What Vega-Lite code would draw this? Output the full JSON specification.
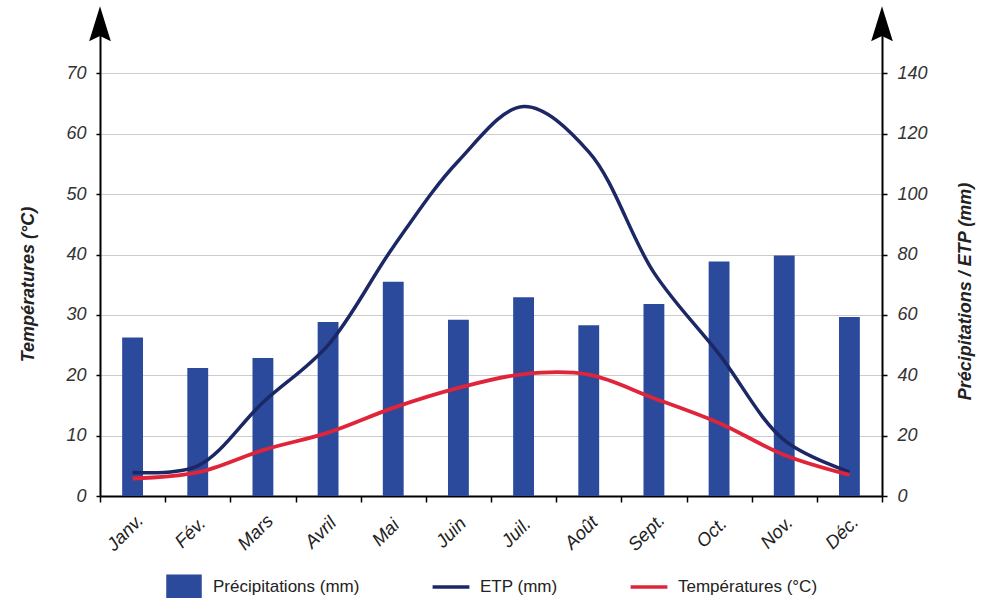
{
  "$schema": "https://vega.github.io/schema/vega-lite/v6.json",
  "width": 782,
  "height": 483,
  "autosize": {"type": "none"},
  "padding": {"left": 100, "top": 13, "right": 111, "bottom": 102},
  "background": "white",
  "config": {"view": {"stroke": null}, "font": "Liberation Sans"},
  "data": {
    "values": [
      {"mois": "Janv.", "precip": 52.5, "etp": 7.8, "temp": 2.9},
      {"mois": "Fév.", "precip": 42.4, "etp": 10, "temp": 3.9},
      {"mois": "Mars", "precip": 45.7, "etp": 31, "temp": 7.6},
      {"mois": "Avril", "precip": 57.6, "etp": 50, "temp": 10.5},
      {"mois": "Mai", "precip": 71, "etp": 82.5, "temp": 14.6},
      {"mois": "Juin", "precip": 58.4, "etp": 111, "temp": 17.9},
      {"mois": "Juil.", "precip": 65.8, "etp": 129, "temp": 20.2},
      {"mois": "Août", "precip": 56.6, "etp": 114, "temp": 20.1},
      {"mois": "Sept.", "precip": 63.6, "etp": 74, "temp": 16.2},
      {"mois": "Oct.", "precip": 77.7, "etp": 47, "temp": 12.1},
      {"mois": "Nov.", "precip": 79.7, "etp": 18.5, "temp": 6.8},
      {"mois": "Déc.", "precip": 59.3, "etp": 8, "temp": 3.5}
    ]
  },
  "layer": [
    {
      "mark": {"type": "bar", "width": {"band": 0.32}},
      "encoding": {
        "x": {
          "field": "mois", "type": "nominal", "sort": null,
          "scale": {"type": "band", "paddingInner": 0, "paddingOuter": 0},
          "axis": {
            "title": null, "tickBand": "extent", "labelAngle": -45,
            "labelAlign": "center", "labelBaseline": "middle", "labelOffset": -8,
            "labelPadding": 30, "labelFontSize": 18.5, "labelFontStyle": "italic",
            "labelColor": "#222222", "labelFont": "Liberation Sans",
            "tickSize": 6, "tickColor": "black", "tickWidth": 1.5,
            "domainColor": "black", "domainWidth": 2, "grid": false
          }
        },
        "y": {
          "field": "precip", "type": "quantitative",
          "scale": {"domain": [0, 160], "nice": false},
          "axis": {
            "orient": "right", "values": [0, 20, 40, 60, 80, 100, 120, 140],
            "title": "Précipitations / ETP (mm)", "titleFontSize": 18,
            "titleFontWeight": "bold", "titleFontStyle": "italic", "titleColor": "#222222",
            "titleAngle": 270, "titleX": 83, "titleY": 278, "titleAlign": "center",
            "titleBaseline": "middle", "titleFont": "Liberation Sans",
            "grid": false, "labelFontSize": 18, "labelFontStyle": "italic",
            "labelColor": "#333333", "labelPadding": 10, "labelFont": "Liberation Sans",
            "tickSize": 5, "tickColor": "black", "tickWidth": 1.5,
            "domainColor": "black", "domainWidth": 2
          }
        },
        "color": {
          "datum": "Précipitations (mm)", "type": "nominal",
          "scale": {
            "domain": ["Précipitations (mm)", "ETP (mm)", "Températures (°C)"],
            "range": ["#2B4A9B", "#1C2765", "#E0243A"]
          },
          "legend": {
            "orient": "none", "legendX": 66, "legendY": 556, "direction": "horizontal",
            "columns": 3, "title": null, "labelFontSize": 17, "labelColor": "#222222",
            "labelFont": "Liberation Sans", "labelOffset": 11, "columnPadding": 65,
            "gridAlign": "each", "symbolSize": 1024, "padding": 0, "labelLimit": 0,
            "encode": {
              "symbols": {
                "update": {
                  "shape": {"signal": "datum.value === 'Précipitations (mm)' ? 'M-1,-0.68H1V0.68H-1Z' : 'M-1.15,-0.68M-1.15,0H1.15M1.15,0.68'"},
                  "fill": {"signal": "datum.value === 'Précipitations (mm)' ? '#2B4A9B' : 'transparent'"},
                  "stroke": {"signal": "datum.value === 'Précipitations (mm)' ? 'transparent' : (datum.value === 'ETP (mm)' ? '#1C2765' : '#E0243A')"},
                  "strokeWidth": {"value": 3.5},
                  "opacity": {"value": 1}
                }
              }
            }
          }
        }
      }
    },
    {
      "mark": {"type": "line", "interpolate": "catmull-rom", "strokeWidth": 3.5},
      "encoding": {
        "x": {"field": "mois", "type": "nominal", "sort": null, "scale": {"type": "point", "padding": 0.5}, "axis": null},
        "y": {"field": "etp", "type": "quantitative", "scale": {"domain": [0, 160], "nice": false}, "axis": null},
        "color": {"datum": "ETP (mm)", "type": "nominal"}
      }
    },
    {
      "mark": {"type": "line", "interpolate": "catmull-rom", "strokeWidth": 3.8},
      "encoding": {
        "x": {"field": "mois", "type": "nominal", "sort": null, "scale": {"type": "point", "padding": 0.5}, "axis": null},
        "y": {
          "field": "temp", "type": "quantitative",
          "scale": {"domain": [0, 80], "nice": false},
          "axis": {
            "orient": "left", "values": [0, 10, 20, 30, 40, 50, 60, 70],
            "title": "Températures (°C)", "titleFontSize": 18,
            "titleFontWeight": "bold", "titleFontStyle": "italic", "titleColor": "#222222",
            "titleAngle": 270, "titleX": -72, "titleY": 271, "titleAlign": "center",
            "titleBaseline": "middle", "titleFont": "Liberation Sans",
            "grid": true, "gridColor": "#cccccc", "gridWidth": 1,
            "labelFontSize": 18, "labelFontStyle": "italic", "labelColor": "#333333",
            "labelPadding": 10, "labelFont": "Liberation Sans",
            "tickSize": 4, "tickColor": "black", "tickWidth": 1.5,
            "domainColor": "black", "domainWidth": 2
          }
        },
        "color": {"datum": "Températures (°C)", "type": "nominal"}
      }
    },
    {
      "data": {"values": [{"axe": "Températures"}, {"axe": "Précipitations / ETP"}]},
      "mark": {"type": "point", "shape": "M0,-1L0.62,1L0,0.7L-0.62,1Z", "size": 1225, "filled": true, "color": "black", "opacity": 1},
      "encoding": {
        "x": {"field": "axe", "type": "nominal", "sort": null, "scale": {"type": "point", "padding": 0}, "axis": null},
        "y": {"datum": 78.2, "type": "quantitative", "scale": {"domain": [0, 80], "nice": false}, "axis": null}
      }
    }
  ],
  "resolve": {"scale": {"x": "independent", "y": "independent"}}
}
